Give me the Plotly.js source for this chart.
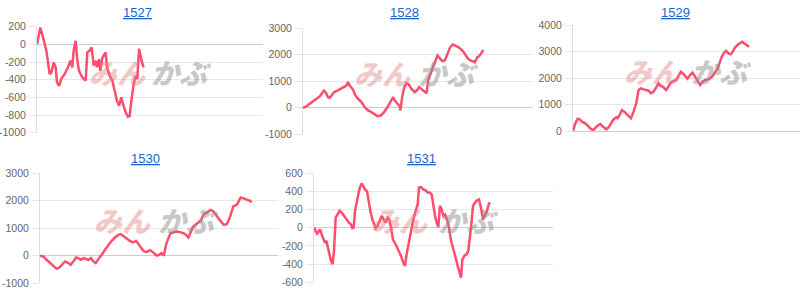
<!DOCTYPE html>
<html>
<head>
<meta charset="utf-8">
<script src="https://cdn.plot.ly/plotly-3.0.1.min.js"></script>
<style>
html,body{margin:0;padding:0;background:#fff;}
#chart{width:800px;height:295px;}
</style>
</head>
<body>
<div id="chart"></div>
<script>
// ---- data (trading-day position, cumulative profit) ----
var titles = ['1527', '1528', '1529', '1530', '1531'];

var days1527 = [0,10,18,28,38,43,50,56,60,66,73,83,93,100,106,110,116,120,126,133,140,146,151,158,164,170,176,180,186,190,196,202,206,210,218,226,233,240,246,253,258,266,273,278,283,290,296,301,306,310,316,320];
var vals1527 = [0,190,80,-70,-335,-320,-205,-260,-430,-470,-390,-335,-260,-185,-260,-70,40,-150,-300,-355,-390,-410,-90,-70,-35,-240,-185,-260,-165,-300,-150,-110,-90,-260,-355,-410,-525,-640,-695,-600,-675,-770,-820,-810,-640,-450,-355,-390,-50,-130,-220,-260];

var days1528 = [0,10,20,30,40,50,57,63,68,75,80,85,93,103,113,123,130,135,140,150,157,165,175,185,195,205,215,223,233,243,253,261,270,275,283,290,292,297,303,310,317,325,335,343,348,355,363,370,375,383,391,397,403,411,417,425,433,441,449,457,465,475,485,493,501,510,515,521,527,533,537,540];
var vals1528 = [0,50,150,240,340,430,550,650,590,400,380,465,590,650,715,780,840,970,840,680,465,340,215,25,-100,-165,-265,-315,-290,-165,25,215,400,275,150,50,-100,400,755,930,880,715,590,680,780,715,630,550,1030,1345,1600,1785,1975,1850,1760,1785,2040,2290,2390,2350,2290,2190,2040,1875,1785,1750,1720,1890,1940,2040,2165,2190];

var days1529 = [0,7,14,20,27,37,47,55,62,70,77,82,90,100,107,114,122,130,134,140,147,154,162,169,174,182,190,197,204,212,220,227,234,242,250,257,264,272,280,287,294,302,310,317,324,330,337,344,352,359,367,374,382,390,397,404,412,420,427,434,440,447,454,460,467,474,480,487,494,502,508,514,522,529];
var vals1529 = [0,290,465,440,350,290,165,65,40,165,225,265,165,65,140,290,440,515,480,600,790,730,630,540,480,730,1045,1545,1610,1570,1545,1520,1420,1485,1650,1800,1700,1650,1545,1700,1825,1885,1925,2075,2240,2175,2075,1975,2115,2200,2050,1925,1735,1860,1925,1950,1985,2075,2200,2365,2550,2805,2955,3030,2930,2895,2995,3155,3245,3335,3370,3310,3245,3180];

var days1530 = [0,10,20,30,40,50,58,65,75,85,92,100,108,115,122,130,138,146,153,160,167,175,185,195,205,215,225,235,242,250,258,265,272,280,288,295,302,310,318,325,330,336,342,350,358,365,372,378,385,392,400,410,420,430,438,445,452,460,468,475,482,490,498,505,512,520,528,536,544,552,560,568,575,580,586,592,598,602,608,615,622,630,635];
var vals1530 = [0,-25,-145,-265,-390,-475,-425,-325,-205,-265,-325,-205,-60,-85,-145,-85,-110,-145,-85,-205,-265,-145,35,220,400,545,665,765,790,705,640,580,520,485,545,425,305,180,135,160,205,160,95,10,35,95,10,400,640,825,850,885,860,825,765,665,860,1065,1150,1225,1270,1490,1550,1610,1670,1610,1465,1345,1225,1125,1150,1345,1610,1795,1830,1880,2035,2120,2095,2070,2035,2000,1950];

var days1531 = [0,5,9,13,18,23,28,33,37,41,46,51,56,60,65,71,77,83,91,98,105,111,115,119,123,128,133,138,143,148,153,159,163,169,175,181,185,191,197,203,209,215,221,226,231,237,245,253,261,268,273,278,285,291,298,305,311,315,321,328,335,341,347,353,358,363,368,373,378,383,388,393,399,405,411,418,425,431,436,441,445,451,458,463,471,477,483,489,495,501,507,513,519,525,529];
var vals1531 = [0,-35,-65,-45,-20,-75,-130,-165,-145,-220,-290,-365,-400,-255,110,145,185,165,130,90,55,35,-5,0,185,290,365,445,485,455,420,400,290,185,90,20,-5,20,80,130,90,55,110,90,0,-130,-185,-240,-310,-385,-420,-290,-145,-35,90,185,255,440,445,420,410,385,385,365,240,130,55,5,240,200,130,145,90,0,-145,-255,-330,-420,-495,-550,-350,-310,-290,-255,0,240,275,300,310,220,90,130,185,265,275];

// tick values for each chart's value axis
var ticks1527 = [200,0,-200,-400,-600,-800,-1000];
var ticks1528 = [3000,2000,1000,0,-1000];
var ticks1529 = [4000,3000,2000,1000,0];
var ticks1530 = [3000,2000,1000,0,-1000];
var ticks1531 = [600,400,200,0,-200,-400,-600];

// ---- layout config ----
var series = [
  {x: days1527, y: vals1527, ticks: ticks1527, xspan: 678, dom: [[37,263],[26.7,132.7]], title: [137.5, 12], mark: [117, 181, 72]},
  {x: days1528, y: vals1528, ticks: ticks1528, xspan: 689, dom: [[303,533],[28.3,134.3]], title: [404, 12], mark: [382, 448, 73]},
  {x: days1529, y: vals1529, ticks: ticks1529, xspan: 682, dom: [[573,800],[25,131]], title: [675, 12], mark: [652, 721, 71]},
  {x: days1530, y: vals1530, ticks: ticks1530, xspan: 714, dom: [[40,278],[173.3,283.3]], title: [145, 158], mark: [122, 188, 220]},
  {x: days1531, y: vals1531, ticks: ticks1531, xspan: 717, dom: [[314,553],[173,282.3]], title: [421.5, 158], mark: [399, 468, 220]}
];

var W = 800, H = 295;
var data = [];
var layout = {
  width: W, height: H,
  margin: {l: 0, r: 0, t: 0, b: 0},
  paper_bgcolor: '#ffffff',
  plot_bgcolor: 'rgba(0,0,0,0)',
  showlegend: false,
  annotations: []
};

series.forEach(function (s, i) {
  var n = i + 1;
  var sfx = (n === 1 ? '' : String(n));
  data.push({
    type: 'scatter', mode: 'lines',
    x: s.x, y: s.y,
    xaxis: 'x' + sfx, yaxis: 'y' + sfx,
    line: {color: '#ff4d6d', width: 2.5},
    hoverinfo: 'skip'
  });
  var mn = Math.min.apply(null, s.ticks), mx = Math.max.apply(null, s.ticks);
  layout['xaxis' + sfx] = {
    domain: [s.dom[0][0] / W, s.dom[0][1] / W],
    range: [0, s.xspan],
    showgrid: false, zeroline: false, showline: false, showticklabels: false, ticks: '',
    anchor: 'y' + sfx, fixedrange: true
  };
  layout['yaxis' + sfx] = {
    domain: [1 - s.dom[1][1] / H, 1 - s.dom[1][0] / H],
    range: [mn, mx],
    tickmode: 'array', tickvals: s.ticks, ticktext: s.ticks.map(function (v) { return String(v); }),
    showgrid: true, gridcolor: '#e8e8e8', gridwidth: 1,
    zeroline: true, zerolinecolor: '#cccccc', zerolinewidth: 1,
    showline: true, linecolor: '#dcdcdc', linewidth: 1,
    ticks: 'outside', ticklen: 7, tickcolor: '#e6e6e6',
    ticklabelstandoff: 1,
    tickfont: {family: 'Arial, "Liberation Sans", sans-serif', size: 10.5, color: '#666666'},
    anchor: 'x' + sfx, fixedrange: true
  };
  // chart title (link-style)
  layout.annotations.push({
    xref: 'paper', yref: 'paper', x: s.title[0] / W, y: 1 - s.title[1] / H,
    xanchor: 'center', yanchor: 'middle', showarrow: false,
    text: '<u>' + titles[i] + '</u>',
    font: {family: 'Arial, "Liberation Sans", sans-serif', size: 13, color: '#1a66cc'}
  });
  // watermark
  layout.annotations.push({
    xref: 'paper', yref: 'paper', x: s.mark[0] / W, y: 1 - s.mark[2] / H,
    xanchor: 'center', yanchor: 'middle', showarrow: false,
    text: 'みん',
    font: {family: '"Noto Sans CJK JP", sans-serif', size: 28, weight: 900, style: 'italic', color: 'rgba(226,130,130,0.45)'}
  });
  layout.annotations.push({
    xref: 'paper', yref: 'paper', x: s.mark[1] / W, y: 1 - s.mark[2] / H,
    xanchor: 'center', yanchor: 'middle', showarrow: false,
    text: 'かぶ',
    font: {family: '"Noto Sans CJK JP", sans-serif', size: 28, weight: 900, style: 'italic', color: 'rgba(145,145,145,0.5)'}
  });
});

Plotly.newPlot('chart', data, layout, {displayModeBar: false, staticPlot: true});
</script>
</body>
</html>
